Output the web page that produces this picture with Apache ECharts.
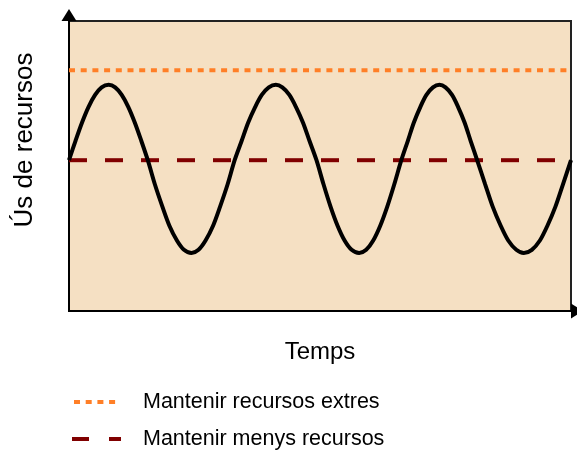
<!DOCTYPE html>
<html>
<head>
<meta charset="utf-8">
<script src="https://cdn.jsdelivr.net/npm/echarts@6/dist/echarts.min.js"></script>
<style>
html,body{margin:0;padding:0;background:#fff;}
#chart{width:577px;height:452px;}
</style>
</head>
<body>
<div id="chart"></div>
<script>
// Time axis (0-100) and resource usage (0-100)
const waveTime = [
  0, 1.3, 2.6, 3.9, 5.2, 6.5, 7.9, 9.2, 10.5, 11.8, 13.1, 14.4, 15.7,
  17.1, 18.6, 20.0, 21.5, 22.9, 24.4, 25.8, 27.2, 28.7, 30.1, 31.6, 33.0,
  34.4, 35.7, 37.1, 38.4, 39.8, 41.2, 42.5, 43.9, 45.2, 46.6, 47.9, 49.3,
  50.7, 52.1, 53.5, 54.9, 56.3, 57.8, 59.2, 60.6, 62.0, 63.4, 64.8, 66.2,
  67.5, 68.7, 70.0, 71.2, 72.5, 73.8, 75.0, 76.3, 77.5, 78.8, 80.0, 81.3,
  82.9, 84.4, 86.0, 87.5, 89.1, 90.6, 92.2, 93.8, 95.3, 96.9, 98.4, 100
];
const waveUsage = [
  52, 58.7, 65, 70.4, 74.5, 77.1, 78, 77.1, 74.5, 70.4, 65, 58.7, 52,
  43.7, 36, 29.4, 24.3, 21.1, 20, 21.1, 24.3, 29.4, 36, 43.7, 52,
  58.7, 65, 70.4, 74.5, 77.1, 78, 77.1, 74.5, 70.4, 65, 58.7, 52,
  43.7, 36, 29.4, 24.3, 21.1, 20, 21.1, 24.3, 29.4, 36, 43.7, 52,
  58.7, 65, 70.4, 74.5, 77.1, 78, 77.1, 74.5, 70.4, 65, 58.7, 52,
  43.7, 36, 29.4, 24.3, 21.1, 20, 21.1, 24.3, 29.4, 36, 43.7, 52
];
const extraLevel = [83, 83];
const fewerLevel = [52, 52];
const levelTime = [0, 100];
const seriesNames = ['Mantenir recursos extres', 'Mantenir menys recursos'];
const xName = 'Temps';
const yName = 'Ús de recursos';

const font = 'Liberation Sans, Arial, sans-serif';
const orange = '#ff7f27';
const darkRed = '#800000';
const legendText = (pad) => ({ fontFamily: font, fontSize: 21.5, color: '#000', lineHeight: 22, padding: [0, 0, 0, pad] });
const hiddenSymbol = { color: 'rgba(0,0,0,0)', borderColor: 'rgba(0,0,0,0)', borderWidth: 0, opacity: 0 };

const chart = echarts.init(document.getElementById('chart'));
chart.setOption({
  animation: false,
  backgroundColor: '#ffffff',
  grid: {
    left: 69, right: 6, top: 21, bottom: 141,
    show: true, backgroundColor: '#f5e0c3',
    borderColor: '#222', borderWidth: 2
  },
  legend: [
    {
      data: [seriesNames[0]], left: 67, top: 386,
      itemWidth: 42, itemHeight: 14,
      itemStyle: hiddenSymbol,
      lineStyle: { color: orange, width: 4, type: [6, 5.7] },
      textStyle: legendText(22)
    },
    {
      data: [seriesNames[1]], left: 65, top: 423,
      itemWidth: 49, itemHeight: 14,
      itemStyle: hiddenSymbol,
      lineStyle: { color: darkRed, width: 4, type: [17, 20] },
      textStyle: legendText(17)
    }
  ],
  xAxis: {
    type: 'value', min: 0, max: 100,
    name: xName, nameLocation: 'middle', nameGap: 29,
    nameTextStyle: { fontFamily: font, fontSize: 24, color: '#000' },
    axisLine: { show: true, onZero: false, lineStyle: { color: '#000', width: 2 },
      symbol: ['none', 'triangle'], symbolSize: [15, 12], symbolOffset: [0, 6] },
    axisTick: { show: false }, axisLabel: { show: false }, splitLine: { show: false }
  },
  yAxis: {
    type: 'value', min: 0, max: 100,
    name: yName, nameLocation: 'middle', nameGap: 31,
    nameTextStyle: { fontFamily: font, fontSize: 26, color: '#000', padding: [0, 0, 0, 52] },
    axisLine: { show: true, onZero: false, lineStyle: { color: '#000', width: 2 },
      symbol: ['none', 'triangle'], symbolSize: [15, 12], symbolOffset: [0, 6] },
    axisTick: { show: false }, axisLabel: { show: false }, splitLine: { show: false }
  },
  series: [
    {
      name: seriesNames[0], type: 'line', symbol: 'none',
      data: levelTime.map((t, i) => [t, extraLevel[i]]),
      lineStyle: { color: orange, width: 4, type: [6, 5.7] },
      itemStyle: { color: orange }, z: 3
    },
    {
      name: seriesNames[1], type: 'line', symbol: 'none',
      data: levelTime.map((t, i) => [t, fewerLevel[i]]),
      lineStyle: { color: darkRed, width: 4, type: [18, 18] },
      itemStyle: { color: darkRed }, z: 3
    },
    {
      name: 'wave', type: 'line', symbol: 'none', smooth: 0.3,
      data: waveTime.map((t, i) => [t, waveUsage[i]]),
      lineStyle: { color: '#000', width: 4 },
      itemStyle: { color: '#000' }, z: 4
    }
  ]
});
</script>
</body>
</html>
